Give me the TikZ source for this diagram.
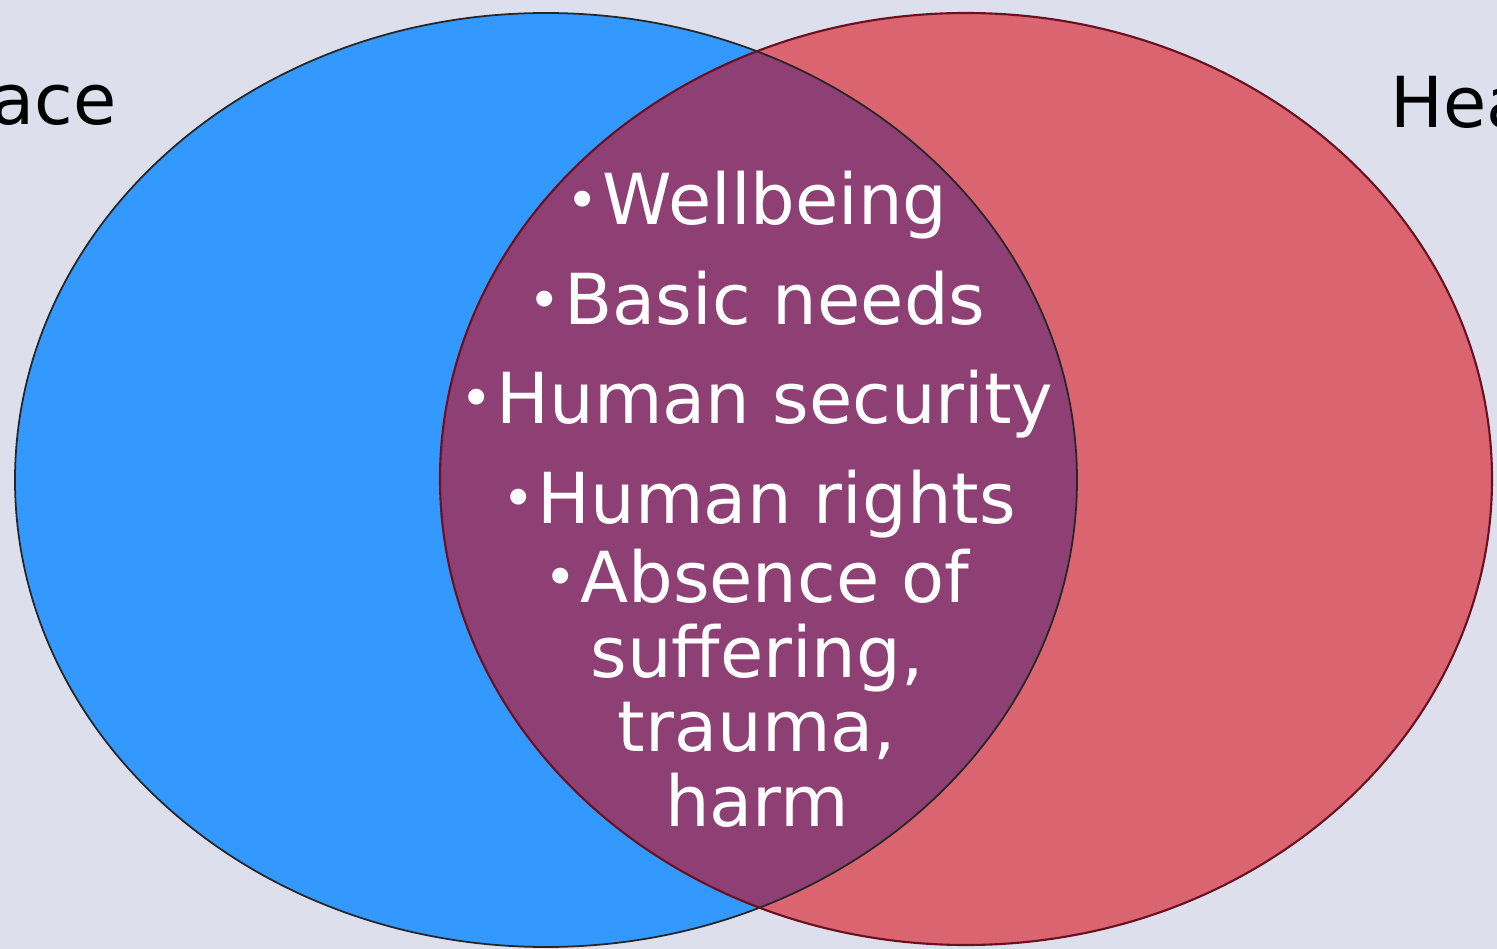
\documentclass[tikz,border=0pt]{standalone}
\usepackage{fontspec}
\setmainfont{DejaVu Sans}
\definecolor{slidebg}{HTML}{DEDFEC}
\definecolor{peaceblue}{HTML}{3399FF}
\definecolor{healthred}{HTML}{DA6470}
\definecolor{overlap}{HTML}{8E3F73}
\definecolor{rimred}{HTML}{6A1020}
\usetikzlibrary{positioning}
\newcommand{\bul}{\raisebox{0.08em}{\scalebox{0.78}{•}}\kern0.05em}

\begin{document}
\begin{tikzpicture}[x=0.01cm, y=-0.01cm,
  item/.style={anchor=base, inner sep=0pt, text=white, align=center, font=\fontsize{20}{21.3}\selectfont},
  setname/.style={inner sep=0pt, text=black, font=\fontsize{20}{22}\selectfont}]
\clip (0,0) rectangle (1497,949);
\fill[slidebg] (0,0) rectangle (1497,949);
% the two sets
\fill[peaceblue] (546,480) ellipse [x radius=531, y radius=467];
\fill[healthred] (966,479) ellipse [x radius=526, y radius=466];
\begin{scope}
  \clip (546,480) ellipse [x radius=531, y radius=467];
  \fill[overlap] (966,479) ellipse [x radius=526, y radius=466];
\end{scope}
\draw[black!85, line width=0.5pt] (546,480) ellipse [x radius=531, y radius=467];
\draw[rimred, line width=0.6pt] (966,479) ellipse [x radius=526, y radius=466];
% set names
\node[setname, anchor=base east] (peace) at (117,125) {Peace};
\node[setname, anchor=base west] (health) at (1390,128) {Health};
% shared items
\node[item] (well) at (757,225) {\bul Wellbeing};
\node[item] (needs) at (757,325) {\bul Basic needs};
\node[item] (secure) at (757,423) {\bul Human security};
\node[item] (rights) at (759,523) {\bul Human rights};
\node[item, anchor=north] (absence) at (757,548) {\bul Absence of\\suffering,\\trauma,\\harm};
\end{tikzpicture}
\end{document}
